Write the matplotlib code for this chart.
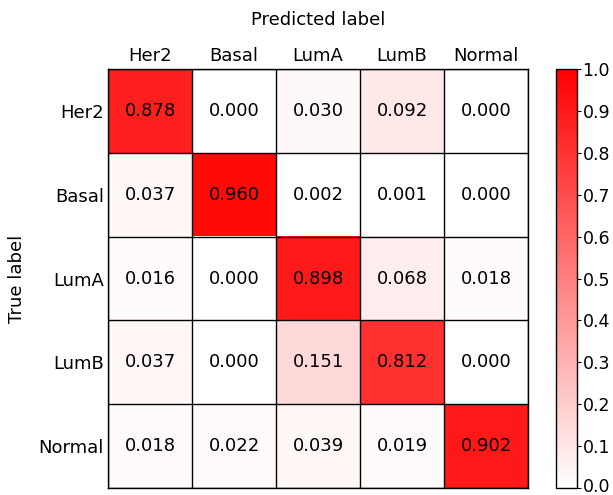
import numpy as np
import matplotlib
matplotlib.use("Agg")
import matplotlib.pyplot as plt
import matplotlib.transforms as mtransforms
from matplotlib.colors import LinearSegmentedColormap

classes = ["Her2", "Basal", "LumA", "LumB", "Normal"]
cm_her2 = [0.878, 0.000, 0.030, 0.092, 0.000]
cm_basal = [0.037, 0.960, 0.002, 0.001, 0.000]
cm_luma = [0.016, 0.000, 0.898, 0.068, 0.018]
cm_lumb = [0.037, 0.000, 0.151, 0.812, 0.000]
cm_normal = [0.018, 0.022, 0.039, 0.019, 0.902]
cbar_ticks = [0.0, 0.1, 0.2, 0.3, 0.4, 0.5, 0.6, 0.7, 0.8, 0.9, 1.0]

cm = np.array([cm_her2, cm_basal, cm_luma, cm_lumb, cm_normal])

plt.rcParams["font.family"] = ["DejaVu Sans"]
cmap = LinearSegmentedColormap.from_list("white_red", ["#FFFFFF", "#FF0000"])

W, H = 613, 495
fig = plt.figure(figsize=(W / 100, H / 100), dpi=100)
ax = fig.add_axes([108 / W, 1 - 488 / H, 420 / W, 419 / H])
cax = fig.add_axes([556 / W, 1 - 488 / H, 21 / W, 419 / H])

im = ax.imshow(cm, cmap=cmap, vmin=0, vmax=1, aspect="auto")

n = len(classes)
for i in range(n):
    for j in range(n):
        ax.text(j, i, f"{cm[i, j]:.3f}", ha="center", va="center", fontsize=13, color="black")

ax.set_xticks(range(n))
ax.set_yticks(range(n))
ax.set_xticklabels(classes, fontsize=13)
ax.set_yticklabels(classes, fontsize=13)
ax.xaxis.tick_top()
ax.xaxis.set_label_position("top")
ax.tick_params(length=0, pad=3)
ax.set_xticks(np.arange(-0.5, n, 1), minor=True)
ax.set_yticks(np.arange(-0.5, n, 1), minor=True)
ax.grid(which="minor", color="black", linewidth=1)
ax.tick_params(which="minor", length=0)
ax.set_xlabel("Predicted label", fontsize=13, labelpad=16)
ax.set_ylabel("True label", fontsize=13, labelpad=9)
for s in ax.spines.values():
    s.set_linewidth(1)

cb = fig.colorbar(im, cax=cax, ticks=cbar_ticks)
cb.ax.tick_params(labelsize=12.5, length=3, pad=1)
cb.outline.set_linewidth(1)
cb.ax.set_yticklabels([f"{t:.1f}" for t in cbar_ticks])

# nudge the bottom label up a touch so it stays inside the canvas
lbl0 = cb.ax.get_yticklabels()[0]
lbl0.set_transform(lbl0.get_transform() + mtransforms.ScaledTranslation(0, 3 / 100, fig.dpi_scale_trans))

fig.savefig("out.png", dpi=100)
